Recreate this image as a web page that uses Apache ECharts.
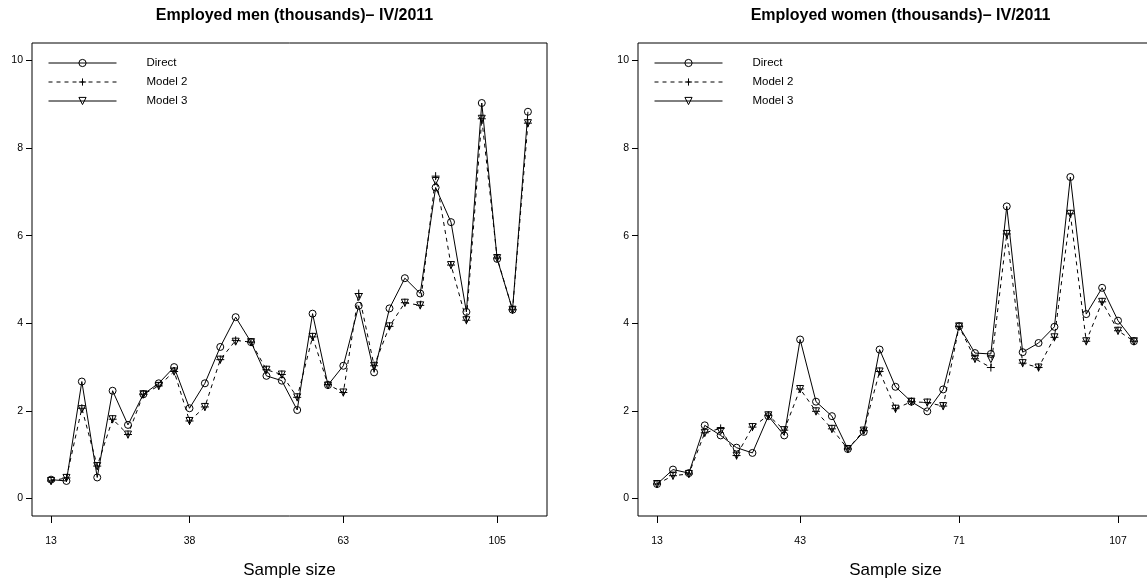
<!DOCTYPE html>
<html><head><meta charset="utf-8">
<script src="https://cdn.jsdelivr.net/npm/echarts@6/dist/echarts.min.js"></script>
<style>html,body{margin:0;padding:0;background:#fff}#c{width:1147px;height:580px}</style>
</head><body><div id="c"></div>
<script>
// Titles
const menTitle = 'Employed men (thousands)\u2013 IV/2011';
const womenTitle = 'Employed women (thousands)\u2013 IV/2011';
const xLabel = 'Sample size';
const seriesNames = ['Direct', 'Model 2', 'Model 3'];

// Tick positions (1-based area position) and labels (sample sizes)
const tickPos = [1, 10, 20, 30];
const menTickLabels = ['13', '38', '63', '105'];
const womenTickLabels = ['13', '43', '71', '107'];
const yTicks = [0, 2, 4, 6, 8, 10];

// Employed men
const menDirect = [0.43,0.40,2.67,0.48,2.46,1.68,2.38,2.63,3.00,2.06,2.63,3.46,4.14,3.57,2.80,2.69,2.02,4.22,2.59,3.03,4.40,2.88,4.34,5.03,4.68,7.10,6.31,4.26,9.03,5.47,4.31,8.83];
const menModel2 = [0.40,0.47,2.06,0.74,1.81,1.46,2.38,2.57,2.90,1.77,2.09,3.17,3.61,3.57,2.94,2.83,2.31,3.69,2.60,2.42,4.68,3.03,3.93,4.47,4.41,7.36,5.33,4.07,8.67,5.49,4.31,8.57];
const menModel3 = [0.40,0.47,2.04,0.74,1.81,1.46,2.38,2.57,2.90,1.77,2.09,3.17,3.58,3.57,2.94,2.83,2.31,3.69,2.58,2.42,4.60,3.03,3.93,4.47,4.41,7.25,5.33,4.07,8.67,5.49,4.31,8.57];

// Employed women
const womenDirect = [0.33,0.66,0.58,1.67,1.44,1.16,1.04,1.88,1.44,3.63,2.21,1.88,1.13,1.52,3.40,2.55,2.21,1.99,2.49,3.93,3.32,3.30,6.67,3.34,3.55,3.92,7.34,4.21,4.81,4.06,3.59];
const womenModel2 = [0.33,0.52,0.56,1.50,1.60,0.98,1.63,1.90,1.56,2.50,1.99,1.59,1.13,1.55,2.90,2.05,2.21,2.19,2.11,3.93,3.19,2.99,6.04,3.09,2.99,3.68,6.50,3.59,4.49,3.83,3.59];
const womenModel3 = [0.33,0.52,0.56,1.50,1.54,0.98,1.63,1.90,1.56,2.50,1.99,1.59,1.13,1.55,2.90,2.05,2.21,2.19,2.11,3.93,3.19,3.18,6.04,3.09,2.99,3.68,6.50,3.59,4.49,3.83,3.59];

const FONT = 'Liberation Sans, Arial, Helvetica, sans-serif';
const toPts = arr => arr.map((v, i) => [i + 1, v]);

const symPlus = 'path://M0,5L10,5M5,0L5,10';
const symTri = 'path://M0,0L10,0L5,8.66Z';

function makeSeries(idx, direct, m2, m3) {
  const base = {type: 'line', xAxisIndex: idx, yAxisIndex: idx, animation: false, silent: true, z: 3};
  return [
    Object.assign({}, base, {name: seriesNames[0], data: toPts(direct), symbol: 'circle', symbolSize: 7,
      lineStyle: {color: '#000', width: 1, type: 'solid'},
      itemStyle: {color: 'rgba(0,0,0,0)', borderColor: '#000', borderWidth: 1}}),
    Object.assign({}, base, {name: seriesNames[1], data: toPts(m2), symbol: symPlus, symbolSize: 8,
      lineStyle: {color: '#000', width: 1, type: [4, 4]},
      itemStyle: {color: 'rgba(0,0,0,0)', borderColor: '#000', borderWidth: 1}}),
    Object.assign({}, base, {name: seriesNames[2], data: toPts(m3), symbol: symTri, symbolSize: 7,
      lineStyle: {color: '#000', width: 1, opacity: 0},
      itemStyle: {color: 'rgba(0,0,0,0)', borderColor: '#000', borderWidth: 1}})
  ];
}

function makeX(idx, nPts, labels) {
  const ext = (nPts - 1) * 0.04;
  return {
    type: 'value', gridIndex: idx, min: 1 - ext, max: nPts + ext,
    axisLine: {show: false, onZero: false}, splitLine: {show: false},
    axisTick: {show: true, length: 7, inside: false, customValues: tickPos, lineStyle: {color: '#000', width: 1}},
    axisLabel: {show: true, customValues: tickPos, margin: 20, fontSize: 10.5, fontFamily: FONT, color: '#000',
      formatter: v => { const k = tickPos.indexOf(Math.round(v)); return k >= 0 ? labels[k] : ''; }},
    name: xLabel, nameLocation: 'middle', nameGap: 46,
    nameTextStyle: {fontSize: 17, fontFamily: FONT, color: '#000'}
  };
}

function makeY(idx) {
  return {
    type: 'value', gridIndex: idx, min: -0.4, max: 10.4,
    axisLine: {show: false, onZero: false}, splitLine: {show: false},
    axisTick: {show: true, length: 6, customValues: yTicks, lineStyle: {color: '#000', width: 1}},
    axisLabel: {show: true, customValues: yTicks, margin: 9, fontSize: 10.5, fontFamily: FONT, color: '#000'}
  };
}

function makeLegend(left) {
  return {
    left: left, top: 52, orient: 'vertical', itemWidth: 68, itemHeight: 9, itemGap: 7,
    selectedMode: false,
    lineStyle: {width: 1, color: '#000', opacity: 1},
    itemStyle: {color: 'rgba(0,0,0,0)', borderColor: '#000', borderWidth: 1},
    textStyle: {fontSize: 11.5, fontFamily: FONT, color: '#000', padding: [0, 0, 0, 25]},
    data: [
      {name: seriesNames[0]},
      {name: seriesNames[1]},
      {name: seriesNames[2], lineStyle: {opacity: 1, width: 1, type: 'solid', color: '#000'}}
    ]
  };
}

const chart = echarts.init(document.getElementById('c'), null, {renderer: 'canvas'});
chart.setOption({
  backgroundColor: '#fff',
  animation: false,
  title: [
    {text: menTitle, left: 289.5, top: 3, textAlign: 'center',
      textStyle: {fontSize: 16, fontWeight: 'bold', fontFamily: FONT, color: '#000'}},
    {text: womenTitle, left: 895.5, top: 3, textAlign: 'center',
      textStyle: {fontSize: 16, fontWeight: 'bold', fontFamily: FONT, color: '#000'}}
  ],
  legend: [makeLegend(43), makeLegend(649)],
  grid: [
    {left: 32, right: 600, top: 43, bottom: 64, show: true, borderColor: '#000', borderWidth: 1, backgroundColor: 'rgba(0,0,0,0)', containLabel: false, outerBoundsMode: 'none'},
    {left: 638, right: -6, top: 43, bottom: 64, show: true, borderColor: '#000', borderWidth: 1, backgroundColor: 'rgba(0,0,0,0)', containLabel: false, outerBoundsMode: 'none'}
  ],
  xAxis: [makeX(0, menDirect.length, menTickLabels), makeX(1, womenDirect.length, womenTickLabels)],
  yAxis: [makeY(0), makeY(1)],
  series: [].concat(
    makeSeries(0, menDirect, menModel2, menModel3),
    makeSeries(1, womenDirect, womenModel2, womenModel3)
  )
});
</script></body></html>
